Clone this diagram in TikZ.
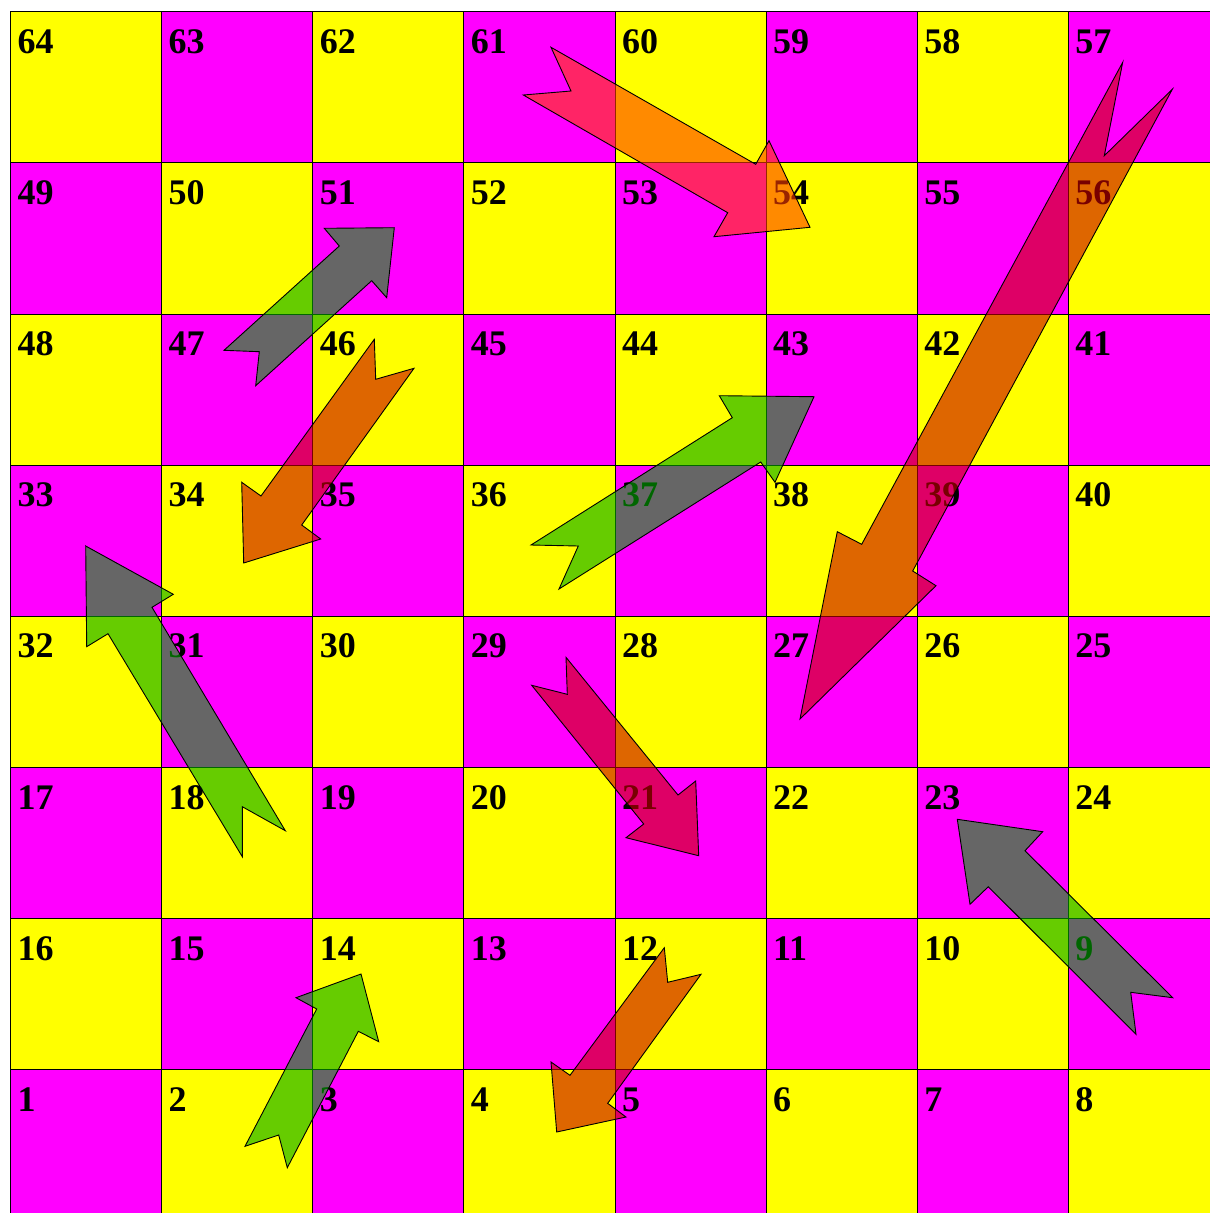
\documentclass[tikz,border=0pt]{standalone}
\usepackage{fontspec}
\setmainfont{Liberation Serif}
\definecolor{boardmag}{RGB}{255,0,255}
\definecolor{boardyel}{RGB}{255,255,0}
\definecolor{ladderc}{RGB}{0,170,0}
\definecolor{snakec}{RGB}{200,0,0}
\definecolor{redarrow}{RGB}{255,60,0}
\tikzset{
  cellbox/.style={draw=black, line width=1pt, minimum size=151.14pt, inner sep=0pt, anchor=north west},
  numlabel/.style={anchor=base west, inner sep=0pt, font=\fontsize{36}{36}\selectfont\bfseries, text=black},
  arrowshape/.style={draw=black, line width=0.9pt, line join=miter, fill opacity=0.6, draw opacity=1},
  ladder/.style={arrowshape, fill=ladderc},
  snake/.style={arrowshape, fill=snakec},
  redsnake/.style={arrowshape, fill=redarrow}
}
\begin{document}
\begin{tikzpicture}[x=1pt,y=-1pt]
\useasboundingbox (0,0) rectangle (1210,1213);
\fill[white] (0,0) rectangle (1210,1213);
\begin{scope}
\clip (0,0) rectangle (1210,1213);
\foreach \r in {0,...,7}{
  \foreach \c in {0,...,7}{
    \pgfmathtruncatemacro{\rowodd}{mod(\r,2)}
    \pgfmathtruncatemacro{\cellpar}{mod(\r+\c,2)}
    \pgfmathtruncatemacro{\num}{\rowodd==0 ? 8*\r+\c+1 : 8*\r+8-\c}
    \pgfmathsetmacro{\xx}{10+151.14*\c}
    \pgfmathsetmacro{\yy}{11.3+151.14*(7-\r)}
    \ifnum\cellpar=0
      \node[cellbox, fill=boardmag] (c\num) at (\xx,\yy) {};
    \else
      \node[cellbox, fill=boardyel] (c\num) at (\xx,\yy) {};
    \fi
    \node[numlabel] (n\num) at (\xx+7.3,\yy+42) {\num};
  }
}
% ladders
\draw[ladder] (224,350.3) -- (339.3,246) -- (324.3,228.3) -- (394.3,227.7) -- (386.7,297.7) -- (371.7,280.7) -- (255.7,385.7) -- (259.3,351.7) -- cycle;
\draw[ladder] (531,545) -- (732.3,417.7) -- (719.3,395.7) -- (814,396.7) -- (775,482.3) -- (760.7,462) -- (559,589) -- (578.3,546) -- cycle;
\draw[ladder] (242.3,856.7) -- (108,633.7) -- (86.7,646.7) -- (85.7,546) -- (173.3,594.3) -- (152,607.3) -- (285.3,830.7) -- (242.3,806.7) -- cycle;
\draw[ladder] (1172.7,997.7) -- (1025,850.7) -- (1042.7,831.7) -- (957.3,819.3) -- (970,904.3) -- (988.3,886.7) -- (1136,1034.3) -- (1130.7,992.3) -- cycle;
\draw[ladder] (245,1146.3) -- (316.7,1009) -- (296,997.7) -- (361,974) -- (378.7,1041.7) -- (358.3,1031.3) -- (287.3,1167.7) -- (278.7,1135) -- cycle;
% snakes
\draw[redsnake] (551,47.3) -- (755.7,164.3) -- (769,140.7) -- (810,227.3) -- (714,236.7) -- (727.7,212.7) -- (523.3,95) -- (571,91) -- cycle;
\draw[snake] (1122.7,62.3) -- (861.7,544.3) -- (837.3,531.7) -- (800,719) -- (936,585.7) -- (912.7,571) -- (1172.3,89.3) -- (1104.3,155.7) -- cycle;
\draw[snake] (374.3,339.3) -- (261,496) -- (241.7,482.3) -- (243.7,563) -- (320.7,539) -- (301.7,525) -- (414,368.3) -- (375.7,379.3) -- cycle;
\draw[snake] (566,657.3) -- (678,795) -- (695.7,781) -- (698.7,855.7) -- (626,837.7) -- (643.7,824) -- (531.7,685.3) -- (567.3,694.3) -- cycle;
\draw[snake] (664.3,947.7) -- (570,1075.3) -- (551,1062) -- (556.7,1132) -- (626,1117) -- (607.7,1103.3) -- (701,974.3) -- (667.7,982.3) -- cycle;
\end{scope}
\end{tikzpicture}
\end{document}
